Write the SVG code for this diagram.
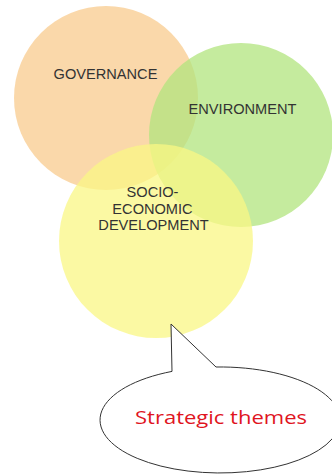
<svg xmlns="http://www.w3.org/2000/svg" width="332" height="475" viewBox="0 0 332 475">
<style>
.lbl{font-family:"Liberation Sans",Arial,sans-serif;font-size:14.6px;fill:#333333}
.circ{opacity:0.75}
</style>
<rect width="332" height="475" fill="#ffffff"/>
<g id="governance">
<circle class="circ" cx="106" cy="98" r="92" fill="#F8CB8E"/>
</g>
<g id="environment">
<circle class="circ" cx="241" cy="135" r="92" fill="#B2E47E"/>
</g>
<g id="socio-economic">
<circle class="circ" cx="156" cy="241" r="97" fill="#FAF784"/>
</g>
<g id="labels">
<text class="lbl" x="105.5" y="79" text-anchor="middle">GOVERNANCE</text>
<text class="lbl" x="242.5" y="114" text-anchor="middle">ENVIRONMENT</text>
<text class="lbl" x="152.5" y="197" text-anchor="middle">SOCIO-</text>
<text class="lbl" x="152.5" y="213.5" text-anchor="middle">ECONOMIC</text>
<text class="lbl" x="153.5" y="230" text-anchor="middle">DEVELOPMENT</text>
</g>
<g id="connectors"></g>
<g id="callout">
<path d="M172 371.4 L171 324 L216 367 A120 53 0 1 1 172 371.4 Z" fill="#ffffff" stroke="#333333" stroke-width="1"/>
<text x="221" y="424" text-anchor="middle" font-family="'Open Sans','Noto Sans',sans-serif" font-size="19" fill="#E0141E" textLength="172" lengthAdjust="spacingAndGlyphs">Strategic themes</text>
</g>
</svg>
